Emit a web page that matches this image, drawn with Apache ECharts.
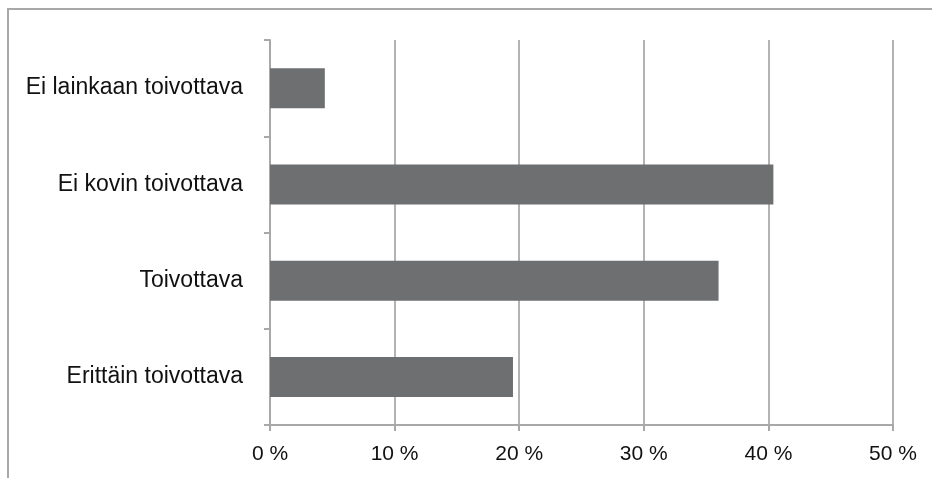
<!DOCTYPE html>
<html>
<head>
<meta charset="utf-8">
<script src="https://cdn.jsdelivr.net/npm/echarts@6/dist/echarts.min.js"></script>
<style>
  html, body { margin: 0; padding: 0; background: #fff; }
  #chart { width: 932px; height: 478px; }
</style>
</head>
<body>
<div id="chart"></div>
<script>
const categories = ['Erittäin toivottava', 'Toivottava', 'Ei kovin toivottava', 'Ei lainkaan toivottava']
const values = [19.5, 36.0, 40.4, 4.4]
const xTicks = [0, 10, 20, 30, 40, 50]

let chart = echarts.init(document.getElementById('chart'))
let option = {
    backgroundColor: '#fff',
    animation: false,
    graphic: [
        {
            type: 'rect',
            shape: { x: 8, y: 9, width: 1000, height: 600 },
            style: { fill: 'none', stroke: '#a8a8a8', lineWidth: 2 },
            silent: true
        }
    ],
    grid: {
        left: 270,
        right: 39,
        top: 40,
        bottom: 53
    },
    xAxis: {
        type: 'value',
        min: xTicks[0],
        max: xTicks[xTicks.length - 1],
        interval: 10,
        axisLine: { show: true, lineStyle: { color: '#a8a8a8', width: 2 } },
        axisTick: { show: true, length: 6, lineStyle: { color: '#a8a8a8', width: 2 } },
        splitLine: { show: true, lineStyle: { color: '#b3b3b3', width: 2 } },
        axisLabel: {
            formatter: '{value} %',
            color: '#111',
            fontFamily: 'Liberation Sans',
            fontSize: 21,
            margin: 19
        }
    },
    yAxis: {
        type: 'category',
        data: categories,
        axisLine: { show: true, lineStyle: { color: '#a8a8a8', width: 2 } },
        axisTick: { show: true, length: 6, lineStyle: { color: '#a8a8a8', width: 2 } },
        splitLine: { show: false },
        axisLabel: {
            color: '#111',
            fontFamily: 'Liberation Sans',
            fontSize: 23,
            margin: 27
        }
    },
    series: [
        {
            type: 'bar',
            data: values,
            barWidth: 40,
            itemStyle: { color: '#6e6f71' },
            silent: true
        }
    ]
}
chart.setOption(option)
</script>
</body>
</html>
